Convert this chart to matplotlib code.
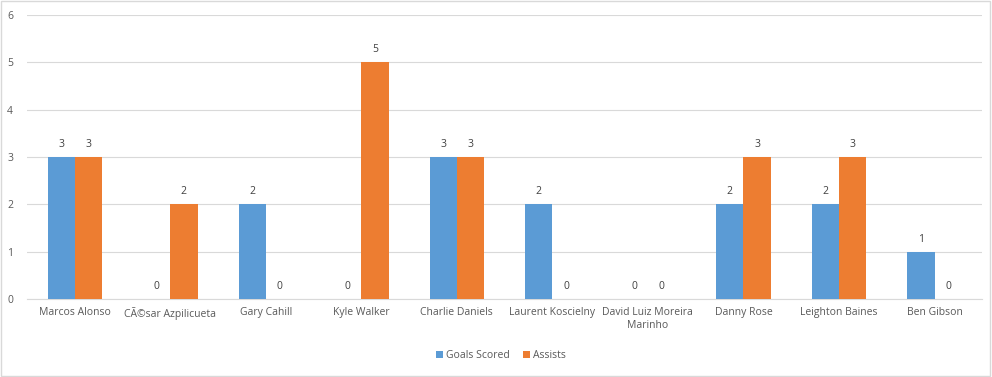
import matplotlib.pyplot as plt
import numpy as np
from matplotlib.patches import Rectangle

players = ["Marcos Alonso", "CÃ©sar Azpilicueta", "Gary Cahill", "Kyle Walker",
           "Charlie Daniels", "Laurent Koscielny", "David Luiz Moreira\nMarinho",
           "Danny Rose", "Leighton Baines", "Ben Gibson"]
goals = [3, 0, 2, 0, 3, 2, 0, 2, 2, 1]
assists = [3, 2, 0, 5, 3, 0, 0, 3, 3, 0]

BLUE = "#5b9bd5"
ORANGE = "#ed7d31"
TXT = "#595959"

plt.rcParams["font.family"] = ["Open Sans", "DejaVu Sans"]

fig = plt.figure(figsize=(9.92, 3.77), dpi=100)
ax = fig.add_axes([0.0272, 0.207, 0.963, 0.753])

x = np.arange(len(players))
w = 0.285
b1 = ax.bar(x - w / 2, goals, w, color=BLUE, label="Goals Scored", zorder=3)
b2 = ax.bar(x + w / 2, assists, w, color=ORANGE, label="Assists", zorder=3)

for bars in (b1, b2):
    ax.bar_label(bars, padding=5, fontsize=7.5, color="#404040")

ax.set_xlim(-0.5, len(players) - 0.5)
ax.set_ylim(0, 6)
ax.set_yticks(range(7))
ax.grid(axis="y", color="#d9d9d9", linewidth=0.8, zorder=0)
ax.set_xticks(x)
ax.set_xticklabels(players, fontsize=7.5, color=TXT)
ax.tick_params(axis="y", labelsize=7.5, labelcolor=TXT, length=0, pad=10)
ax.tick_params(axis="x", length=0, pad=6)
for s in ["top", "right", "left"]:
    ax.spines[s].set_visible(False)
ax.spines["bottom"].set_color("#d9d9d9")

fig.legend(loc="center", bbox_to_anchor=(0.505, 0.056), ncol=2, frameon=False,
           fontsize=7.5, handlelength=0.7, handleheight=0.7, handletextpad=0.3,
           columnspacing=1.2, labelcolor=TXT)

fig.patches.append(Rectangle((0.001, 0.002), 0.997, 0.995, transform=fig.transFigure,
                             fill=False, edgecolor="#d9d9d9", linewidth=1))

fig.savefig("out.png", dpi=100)
